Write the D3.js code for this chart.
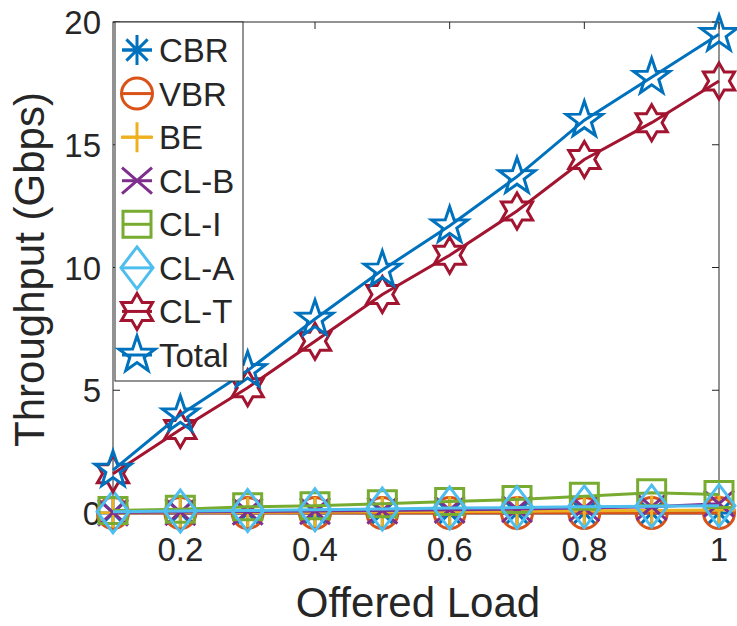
<!DOCTYPE html>
<html>
<head>
<meta charset="utf-8">
<script src="https://cdn.jsdelivr.net/npm/d3@7"></script>
<style>
  body { margin: 0; background: #fff; }
  text { font-family: "Liberation Sans", Arial, sans-serif; fill: #262626; }
</style>
</head>
<body>
<div id="chart"></div>
<script>
// data
const loads = [0.1, 0.2, 0.3, 0.4, 0.5, 0.6, 0.7, 0.8, 0.9, 1.0];
const cbr   = [0, 0, 0, 0, 0, 0, 0, 0, 0, 0];
const vbr   = [0, 0, 0, 0, 0, 0, 0, 0, 0, 0];
const be    = [0.01, 0.02, 0.03, 0.04, 0.05, 0.06, 0.07, 0.09, 0.1, 0.12];
const clB   = [0.02, 0.04, 0.06, 0.08, 0.1, 0.13, 0.16, 0.2, 0.25, 0.38];
const clI   = [0.1, 0.15, 0.25, 0.3, 0.38, 0.47, 0.55, 0.68, 0.82, 0.75];
const clA   = [0.05, 0.08, 0.1, 0.13, 0.16, 0.2, 0.22, 0.25, 0.28, 0.3];
const clT   = [1.6, 3.4, 5.1, 7.0, 8.9, 10.5, 12.3, 14.4, 15.9, 17.6];
const total = [1.75, 4.0, 5.8, 7.9, 9.9, 11.7, 13.7, 16.0, 17.75, 19.5];

const seriesNames = ["CBR", "VBR", "BE", "CL-B", "CL-I", "CL-A", "CL-T", "Total"];
const seriesValues = [cbr, vbr, be, clB, clI, clA, clT, total];
const seriesColors = ["#0072BD", "#D95319", "#EDB120", "#7E2F8E", "#77AC30", "#4DBEEE", "#A2142F", "#0072BD"];
const seriesMarkers = ["asterisk", "circle", "plus", "cross", "square", "diamond", "hexagram", "pentagram"];

const xTicks = [0.2, 0.4, 0.6, 0.8, 1];
const yTicks = [0, 5, 10, 15, 20];

const width = 737, height = 626;
const margin = { top: 22, left: 113, right: 18, bottom: 113 };
const innerW = width - margin.left - margin.right;
const innerH = height - margin.top - margin.bottom;

const xScale = d3.scaleLinear().domain([0.1, 1]).range([0, innerW]);
const yScale = d3.scaleLinear().domain([0, 20]).range([innerH, 0]);

// marker shapes, centred on 0,0
function star(points, R, r) {
  let pts = [];
  for (let i = 0; i < points * 2; i++) {
    let a = -Math.PI / 2 + i * Math.PI / points;
    let rad = i % 2 ? r : R;
    pts.push([rad * Math.cos(a), rad * Math.sin(a)]);
  }
  return "M" + pts.map(p => p.join(",")).join("L") + "Z";
}
function markerPath(kind) {
  switch (kind) {
    case "asterisk": return "M-15,0H15M0,-15V15M-10.6,-10.6L10.6,10.6M-10.6,10.6L10.6,-10.6";
    case "circle": return d3.arc()({ innerRadius: 0, outerRadius: 15.5, startAngle: 0, endAngle: 2 * Math.PI });
    case "plus": return "M-16,0H16M0,-15V15";
    case "cross": return "M-15,-13L15,13M-15,13L15,-13";
    case "square": return "M-14,-13H14V13H-14Z";
    case "diamond": return "M0,-21L16,0L0,21L-16,0Z";
    case "hexagram": return star(6, 18, 10.4);
    case "pentagram": return star(5, 19, 7.5);
  }
}

const svg = d3.select("#chart")
  .append("svg")
  .attr("width", width)
  .attr("height", height);

const g = svg.append("g")
  .attr("transform", `translate(${margin.left}, ${margin.top})`);

// box + inward ticks
const axisColor = "#262626";
g.append("rect")
  .attr("x", 0).attr("y", 0)
  .attr("width", innerW).attr("height", innerH)
  .attr("fill", "none")
  .attr("stroke", axisColor)
  .attr("stroke-width", 1);

const tickLen = 7;
g.append("g").selectAll("path")
  .data(xTicks)
  .join("path")
  .attr("d", d => `M${xScale(d)},${innerH}v${-tickLen}M${xScale(d)},0v${tickLen}`)
  .attr("stroke", axisColor);
g.append("g").selectAll("path")
  .data(yTicks)
  .join("path")
  .attr("d", d => `M0,${yScale(d)}h${tickLen}M${innerW},${yScale(d)}h${-tickLen}`)
  .attr("stroke", axisColor);

// tick labels
g.append("g").selectAll("text")
  .data(xTicks)
  .join("text")
  .attr("x", d => xScale(d))
  .attr("y", innerH + 48)
  .attr("text-anchor", "middle")
  .style("font-size", "33px")
  .text(d => d3.format("~g")(d));
g.append("g").selectAll("text")
  .data(yTicks)
  .join("text")
  .attr("x", -12)
  .attr("y", d => yScale(d) + 12)
  .attr("text-anchor", "end")
  .style("font-size", "33px")
  .text(d => d);

// axis titles
g.append("text")
  .attr("x", innerW / 2 + 2)
  .attr("y", innerH + 104)
  .attr("text-anchor", "middle")
  .style("font-size", "42px")
  .text("Offered Load");
g.append("text")
  .attr("transform", `translate(-69, ${innerH / 2 + 2}) rotate(-90)`)
  .attr("text-anchor", "middle")
  .style("font-size", "42px")
  .text("Throughput (Gbps)");

// series
const line = d3.line()
  .x((d, i) => xScale(loads[i]))
  .y(d => yScale(d));

seriesValues.forEach((vals, k) => {
  const s = g.append("g").attr("class", "series");
  s.append("path")
    .attr("d", line(vals))
    .attr("fill", "none")
    .attr("stroke", seriesColors[k])
    .attr("stroke-width", 3);
  s.selectAll("path.marker")
    .data(vals)
    .join("path")
    .attr("class", "marker")
    .attr("d", markerPath(seriesMarkers[k]))
    .attr("transform", (d, i) => `translate(${xScale(loads[i])}, ${yScale(d)})`)
    .attr("fill", "none")
    .attr("stroke", seriesColors[k])
    .attr("stroke-width", 3);
});

// legend
const legend = g.append("g").attr("transform", "translate(2, 0)");
legend.append("rect")
  .attr("x", 0).attr("y", 0)
  .attr("width", 128).attr("height", 359)
  .attr("fill", "#fff")
  .attr("stroke", axisColor);
const rowY = d3.scaleLinear().domain([0, 7]).range([28, 333]);
const rows = legend.selectAll("g.row")
  .data(seriesNames)
  .join("g")
  .attr("class", "row")
  .attr("transform", (d, i) => `translate(22, ${rowY(i)})`);
rows.append("path")
  .attr("d", "M-15,0H15")
  .attr("stroke", (d, i) => seriesColors[i])
  .attr("stroke-width", 3);
rows.append("path")
  .attr("d", (d, i) => markerPath(seriesMarkers[i]))
  .attr("fill", "none")
  .attr("stroke", (d, i) => seriesColors[i])
  .attr("stroke-width", 3);
rows.append("text")
  .attr("x", 22)
  .attr("y", 12)
  .style("font-size", "33px")
  .text(d => d);
</script>
</body>
</html>
